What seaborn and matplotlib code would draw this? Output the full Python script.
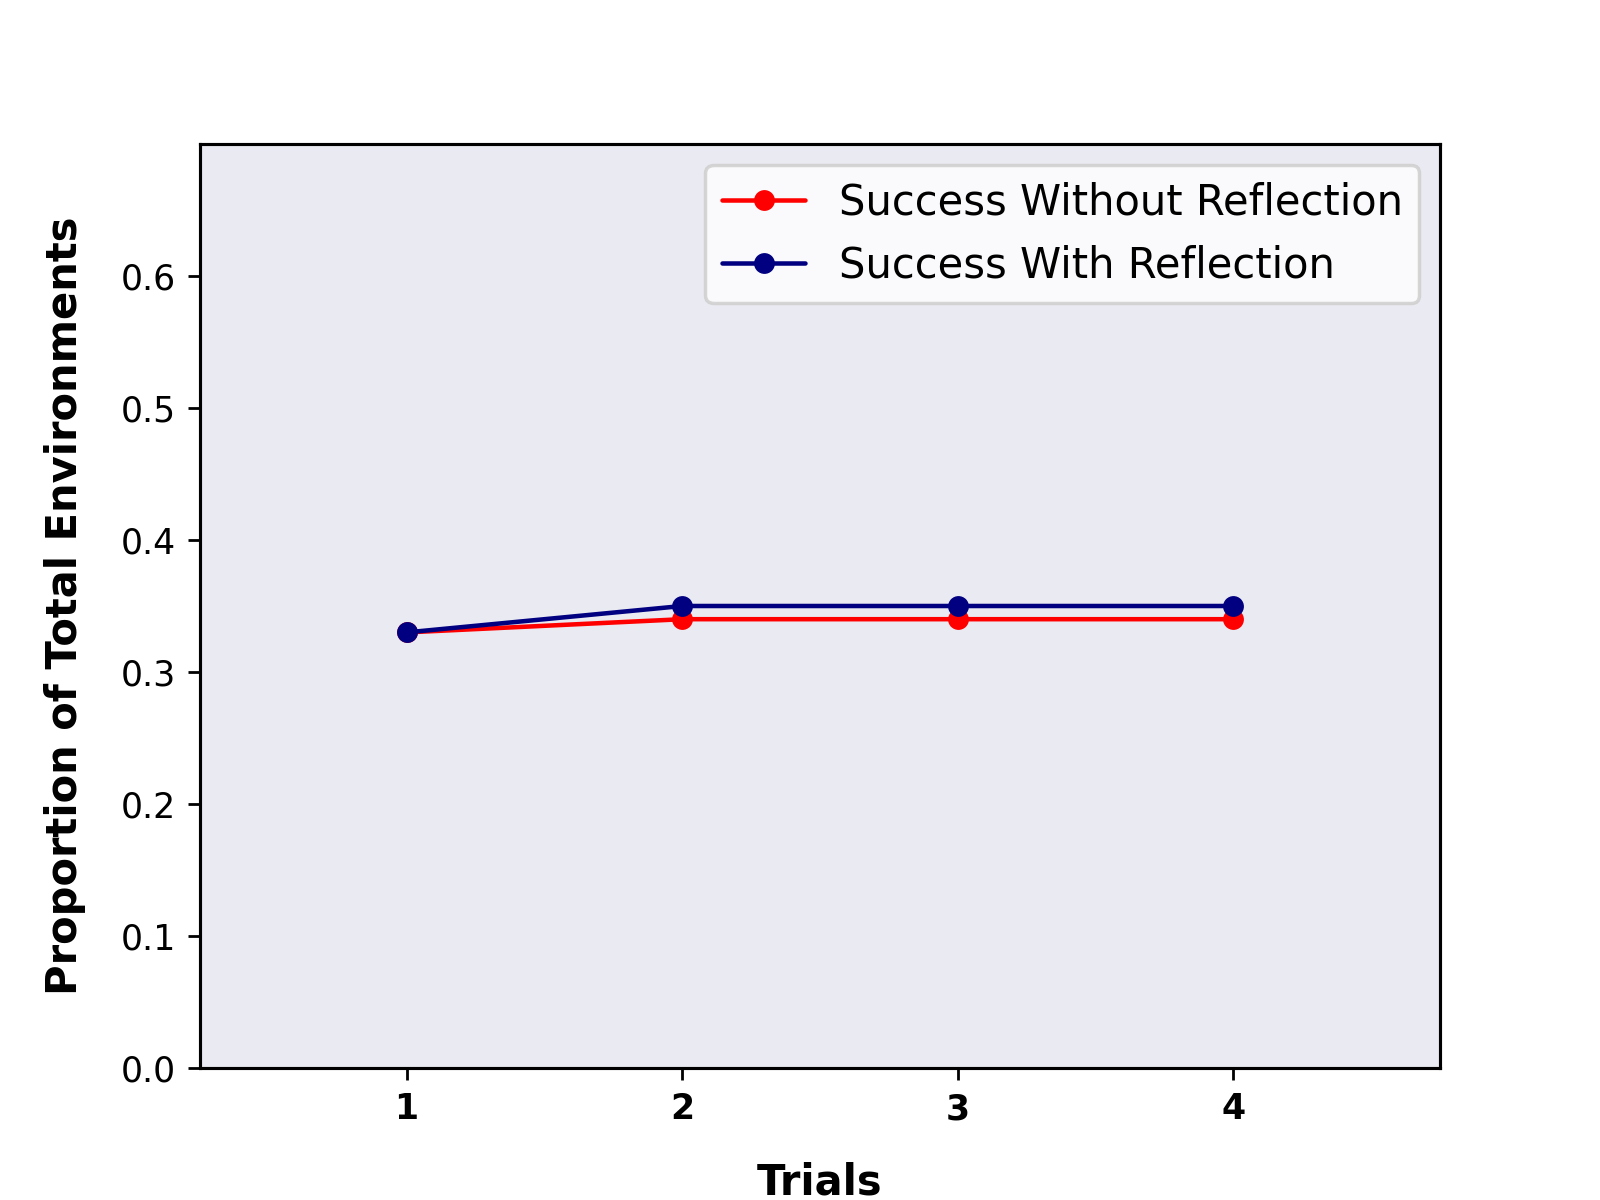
import matplotlib
matplotlib.use("Agg")
import matplotlib.pyplot as plt
import seaborn as sns
import pandas as pd

trials = [1, 2, 3, 4]
success_without = [0.33, 0.34, 0.34, 0.34]
success_with = [0.33, 0.35, 0.35, 0.35]
series_names = ["Success Without Reflection", "Success With Reflection"]
colors = ["red", "navy"]

df = pd.DataFrame({
    "Trials": trials * 2,
    "value": success_without + success_with,
    "series": [series_names[0]] * 4 + [series_names[1]] * 4,
})

sns.set_style("ticks", {"axes.facecolor": "#EAEAF2", "axes.edgecolor": "black",
                        "text.color": "black", "axes.labelcolor": "black",
                        "xtick.color": "black", "ytick.color": "black"})
plt.rcParams["font.family"] = ["DejaVu Sans"]

fig, ax = plt.subplots(figsize=(6.4, 4.8), dpi=250)

sns.lineplot(data=df, x="Trials", y="value", hue="series", palette=colors,
             marker="o", markersize=6, markeredgewidth=0, linewidth=1.3, ax=ax)

ax.set_xlim(0.25, 4.75)
ax.set_ylim(0, 0.7)
ax.set_xticks(trials)
ax.set_xticklabels([str(t) for t in trials], fontweight="bold", fontsize=10)
ax.set_yticks([0.0, 0.1, 0.2, 0.3, 0.4, 0.5, 0.6])
ax.tick_params(axis="y", labelsize=10)
ax.set_xlabel("Trials", fontweight="bold", fontsize=12, labelpad=10)
ax.set_ylabel("Proportion of Total Environments", fontweight="bold", fontsize=12, labelpad=10)
for s in ax.spines.values():
    s.set_color("black")
    s.set_linewidth(0.9)

leg = ax.legend(loc="upper right", fontsize=12, frameon=True)
leg.get_frame().set_facecolor("white")
leg.get_frame().set_alpha(0.8)
for t in leg.get_texts():
    t.set_color("black")

fig.savefig("out.png", dpi=250)
